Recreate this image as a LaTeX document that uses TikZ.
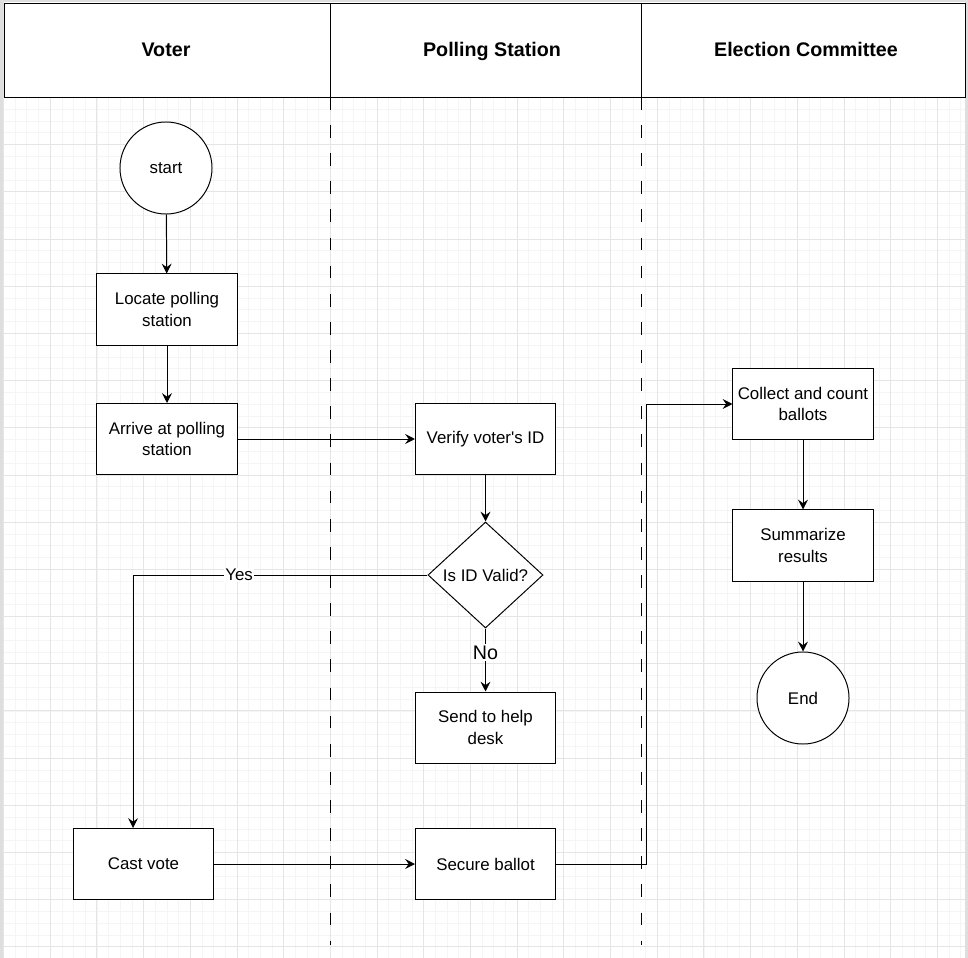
\documentclass[tikz,border=0pt]{standalone}
\usepackage{fontspec}
\setmainfont{Liberation Sans}
\usetikzlibrary{positioning}
\usetikzlibrary{shapes.geometric}
\usetikzlibrary{arrows.meta}

\tikzset{
  txt/.style={font=\fontsize{12}{15}\selectfont},
  stepbox/.style={txt, draw=black, fill=white, line width=0.7pt, align=center, minimum width=3.5cm, minimum height=1.775cm, inner sep=1pt},
  terminal/.style={txt, circle, draw=black, fill=white, line width=0.7pt, minimum size=2.3cm},
  decision/.style={txt, diamond, draw=black, fill=white, line width=0.7pt, minimum width=2.875cm, minimum height=2.65cm, inner sep=1pt},
  lanehead/.style={draw=black, fill=white, line width=0.7pt},
  lanetitle/.style={font=\fontsize{14}{16}\selectfont\bfseries, anchor=base},
  laneline/.style={black, line width=0.6pt, dash pattern=on 9pt off 11pt},
  flow/.style={black, line width=0.7pt, -{Stealth[length=7pt, width=7pt, inset=2.5pt]}},
  lbl/.style={txt, fill=white, inner sep=1pt},
}

\begin{document}
\begin{tikzpicture}[x=0.025cm, y=-0.025cm]
\useasboundingbox (0,0) rectangle (968,958);
\fill[black!13] (0,0) rectangle (968,958);
\fill[white] (3.5,2.5) rectangle (965,958);

% grid
\begin{scope}[shift={(3.5,3)}]
\draw[black!4, line width=0.5pt, step={(0.29175cm,0.29488cm)}] (0,0) grid (961,955);
\draw[black!10, line width=0.6pt, step={(1.167cm,1.1795cm)}] (0,0) grid (961,955);
\end{scope}

% lanes
\draw[lanehead] (4,3) rectangle (330,97);
\draw[lanehead] (330,3) rectangle (641,97);
\draw[lanehead] (641,3) rectangle (965,97);
\node[lanetitle] (voter) at (166,57) {Voter};
\node[lanetitle] (station) at (492,57) {Polling Station};
\node[lanetitle] (committee) at (806,57) {Election Committee};

\draw[laneline] (330,97)--(330,945);
\draw[laneline] (641,97)--(641,945);

% steps
\node[terminal] (start) at (166,168) {start};
\node[stepbox] (locate) at (167,309.5) {Locate polling\\station};
\node[stepbox] (arrive) at (167,439) {Arrive at polling\\station};
\node[stepbox] (verify) at (485.5,439) {Verify voter\textquotesingle s ID};
\node[decision] (valid) at (485.5,575) {Is ID Valid?};
\node[stepbox] (helpdesk) at (485.5,727.5) {Send to help\\desk};
\node[stepbox] (cast) at (143.5,864) {Cast vote};
\node[stepbox] (secure) at (485.5,864) {Secure ballot};
\node[stepbox] (collect) at (803,404) {Collect and count\\ballots};
\node[stepbox] (summarize) at (803,545.5) {Summarize\\results};
\node[terminal] (stop) at (803,698) {End};

% arrows
\draw[flow] (start) -- (locate);
\draw[flow] (locate) -- (arrive);
\draw[flow] (arrive) -- (verify);
\draw[flow] (verify) -- (valid);
\draw[flow] (valid.west) -| node[lbl, pos=0.32] {Yes} ([xshift=-0.26cm]cast.north);
\draw[flow] (valid.south) -- node[lbl, pos=0.38, font=\fontsize{14}{16}\selectfont] {No} (helpdesk.north);
\draw[flow] (cast) -- (secure);
\draw[flow] (secure.east) -- ++(90,0) |- (collect.west);
\draw[flow] (collect) -- (summarize);
\draw[flow] (summarize) -- (stop);

\end{tikzpicture}
\end{document}
